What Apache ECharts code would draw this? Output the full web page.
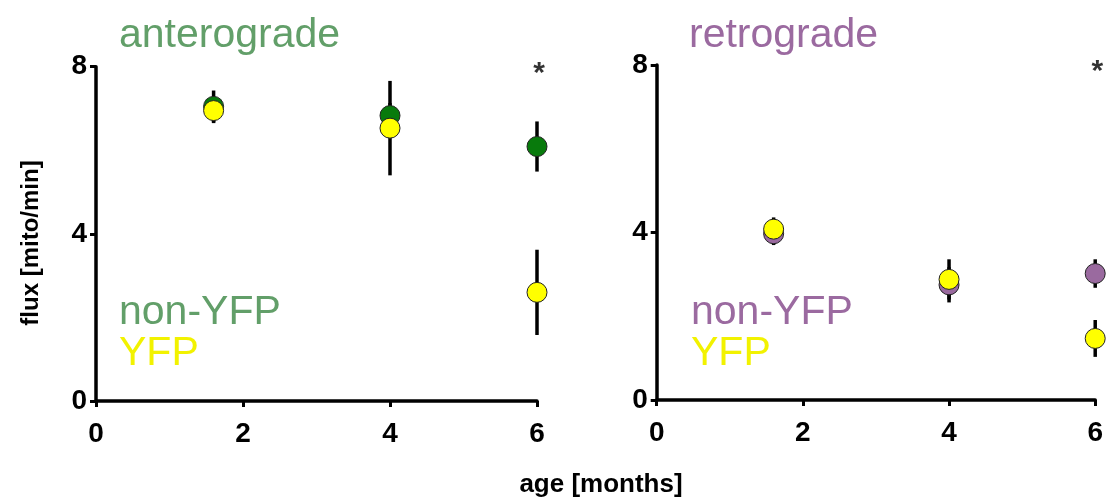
<!DOCTYPE html>
<html>
<head>
<meta charset="utf-8">
<script src="https://cdn.jsdelivr.net/npm/echarts@6/dist/echarts.min.js"></script>
<style>
  html, body { margin: 0; padding: 0; background: #fff; }
  #chart { width: 1106px; height: 498px; }
</style>
</head>
<body>
<div id="chart"></div>
<script>
// Mitochondrial flux by age, anterograde and retrograde transport
const months = [1.6, 4, 6];

const anteroNonYfp = [7.05, 6.83, 6.09];
const anteroNonYfpErr = [0.38, 0.30, 0.60];
const anteroYfp = [6.95, 6.53, 2.60];
const anteroYfpErr = [0.30, 1.13, 1.02];

const retroNonYfp = [3.97, 2.75, 3.02];
const retroNonYfpErr = [0.27, 0.42, 0.34];
const retroYfp = [4.08, 2.88, 1.47];
const retroYfpErr = [0.28, 0.48, 0.44];

// significance marks: [age, flux]
const starMarks = [[6, 8]];

const xTickValues = [0, 2, 4, 6];
const yTickValues = [0, 4, 8];

const FONT = '"Liberation Sans", Arial, sans-serif';
const GREEN = '#087a0c';
const GREEN_TEXT = '#629f69';
const PURPLE = '#9a6a9f';
const PURPLE_TEXT = '#9b6aa0';
const YELLOW = '#ffff00';
const YELLOW_TEXT = '#f2f200';

function pairs(xs, ys) { return xs.map((x, i) => [x, ys[i]]); }
function ranges(xs, ys, errs) { return xs.map((x, i) => [x, ys[i] - errs[i], ys[i] + errs[i]]); }

function errorSeries(idx, data) {
  return {
    type: 'custom',
    xAxisIndex: idx, yAxisIndex: idx,
    z: 1,
    encode: { x: 0, y: [1, 2] },
    data: data,
    renderItem: function (params, api) {
      const lo = api.coord([api.value(0), api.value(1)]);
      const hi = api.coord([api.value(0), api.value(2)]);
      return {
        type: 'line',
        shape: { x1: lo[0], y1: lo[1], x2: hi[0], y2: hi[1] },
        style: { stroke: '#000', lineWidth: 3.5 }
      };
    }
  };
}

function pointSeries(idx, data, color, z) {
  return {
    type: 'scatter',
    xAxisIndex: idx, yAxisIndex: idx,
    z: z,
    symbol: 'circle',
    symbolSize: 20,
    itemStyle: { color: color, borderColor: '#222', borderWidth: 1, opacity: 1 },
    data: data
  };
}

function starSeries(idx) {
  return {
    type: 'scatter',
    xAxisIndex: idx, yAxisIndex: idx,
    symbolSize: 0,
    z: 5,
    label: {
      show: true, formatter: '*', position: 'inside', offset: [2, 7],
      color: '#000', fontFamily: FONT, fontWeight: 'bold', fontSize: 30
    },
    data: starMarks
  };
}

function xAxisDef(idx) {
  return {
    type: 'value', gridIndex: idx, min: 0, max: 6, interval: 2,
    axisLine: { show: true, onZero: false, lineStyle: { color: '#000', width: 3.5 } },
    axisTick: { show: true, length: 6, lineStyle: { color: '#000', width: 3 } },
    axisLabel: {
      color: '#000', fontFamily: FONT, fontWeight: 'bold', fontSize: 28, margin: 19,
      customValues: xTickValues
    },
    splitLine: { show: false }
  };
}

function yAxisDef(idx) {
  return {
    type: 'value', gridIndex: idx, min: 0, max: 8, interval: 4,
    axisLine: { show: true, onZero: false, lineStyle: { color: '#000', width: 3.5 } },
    axisTick: { show: true, length: 6, lineStyle: { color: '#000', width: 3 } },
    axisLabel: {
      color: '#000', fontFamily: FONT, fontWeight: 'bold', fontSize: 28, margin: 9,
      customValues: yTickValues
    },
    splitLine: { show: false }
  };
}

function textEl(x, y, text, color, size, weight) {
  return {
    type: 'text', left: x, top: y, z: 10,
    style: {
      text: text, fill: color, fontFamily: FONT, fontSize: size,
      fontWeight: weight || 'normal'
    }
  };
}

const chart = echarts.init(document.getElementById('chart'), null, { renderer: 'canvas' });
chart.setOption({
  backgroundColor: '#fff',
  animation: false,
  grid: [
    { left: 96, top: 66.7, width: 441, height: 334.3 },
    { left: 656.7, top: 65, width: 441.6, height: 335 }
  ],
  xAxis: [xAxisDef(0), xAxisDef(1)],
  yAxis: [yAxisDef(0), yAxisDef(1)],
  graphic: [
    textEl(119, 15, 'anterograde', GREEN_TEXT, 41),
    textEl(689, 15, 'retrograde', PURPLE_TEXT, 41),
    textEl(119, 292, 'non-YFP', GREEN_TEXT, 41),
    textEl(119, 333, 'YFP', YELLOW_TEXT, 41),
    textEl(691, 292, 'non-YFP', PURPLE_TEXT, 41),
    textEl(691, 333, 'YFP', YELLOW_TEXT, 41),
    {
      type: 'text', x: 31, y: 243, rotation: Math.PI / 2, z: 10,
      style: {
        text: 'flux [mito/min]', fill: '#000', fontFamily: FONT, fontSize: 24,
        fontWeight: 'bold', align: 'center', verticalAlign: 'middle'
      }
    },
    {
      type: 'text', x: 601, y: 485, z: 10,
      style: {
        text: 'age [months]', fill: '#000', fontFamily: FONT, fontSize: 26,
        fontWeight: 'bold', align: 'center', verticalAlign: 'middle'
      }
    }
  ],
  series: [
    errorSeries(0, ranges(months, anteroNonYfp, anteroNonYfpErr)),
    errorSeries(0, ranges(months, anteroYfp, anteroYfpErr)),
    pointSeries(0, pairs(months, anteroNonYfp), GREEN, 2),
    pointSeries(0, pairs(months, anteroYfp), YELLOW, 3),
    starSeries(0),
    errorSeries(1, ranges(months, retroNonYfp, retroNonYfpErr)),
    errorSeries(1, ranges(months, retroYfp, retroYfpErr)),
    pointSeries(1, pairs(months, retroNonYfp), PURPLE, 2),
    pointSeries(1, pairs(months, retroYfp), YELLOW, 3),
    starSeries(1)
  ]
});
</script>
</body>
</html>
